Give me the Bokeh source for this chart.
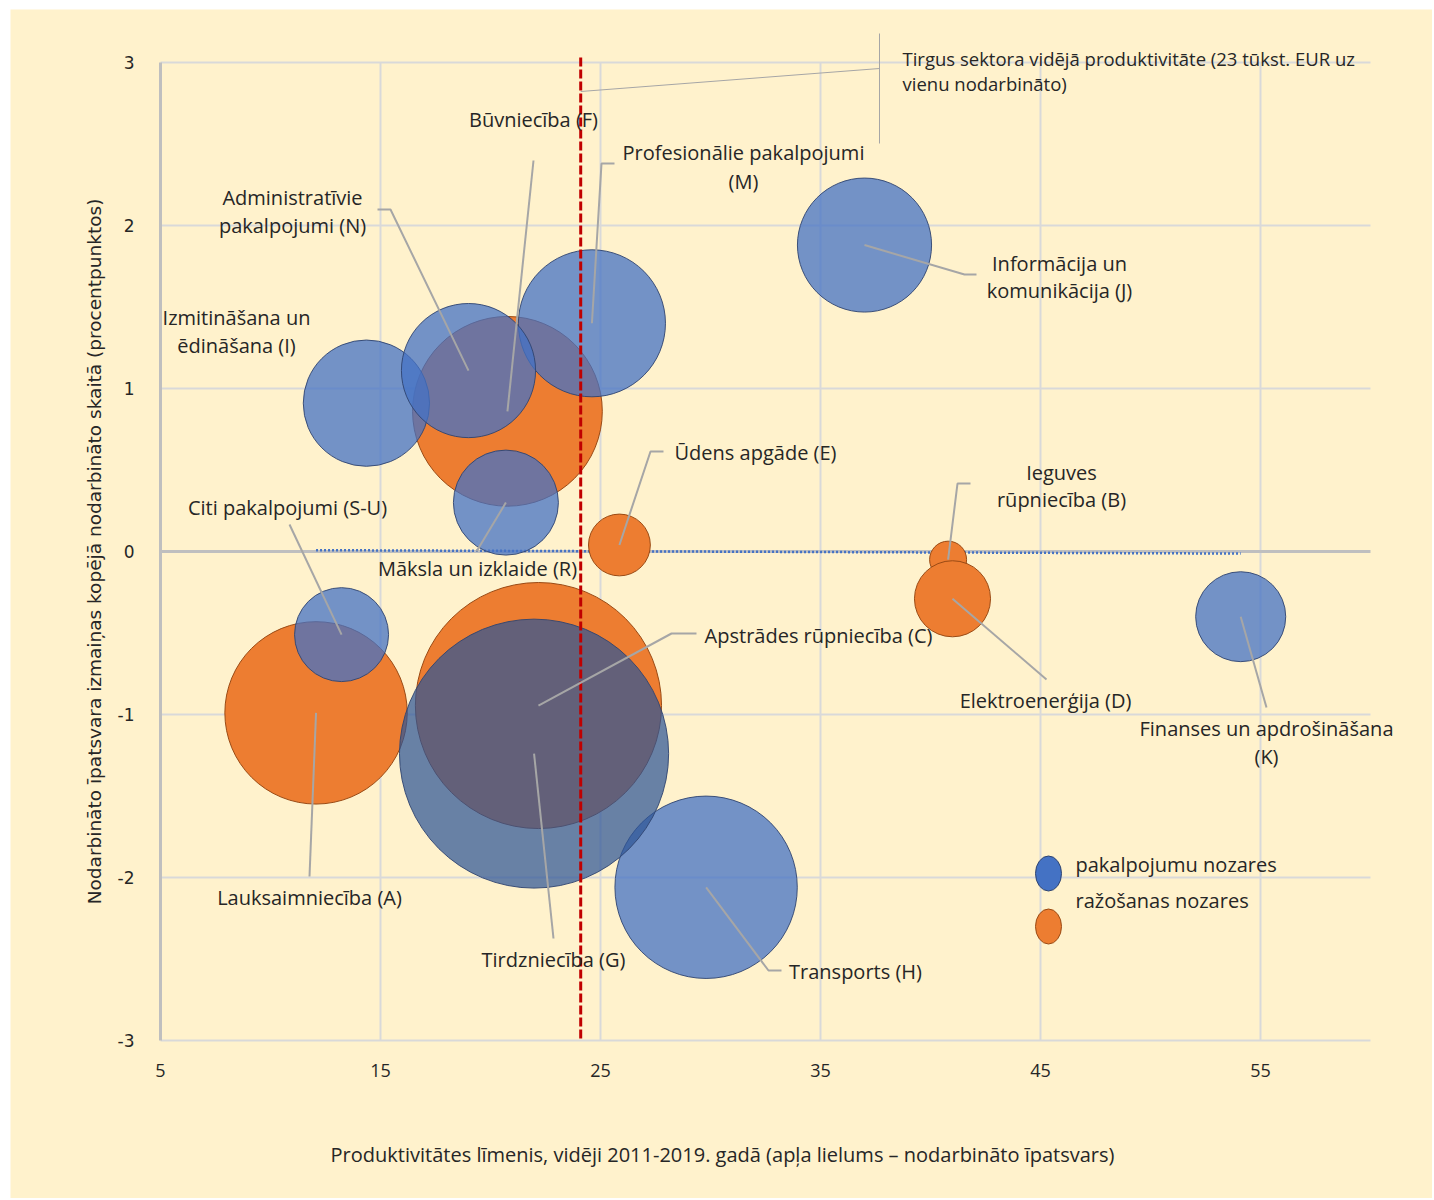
import numpy as np
from bokeh.plotting import figure
from bokeh.models import Range1d, FixedTicker, Label, ColumnDataSource
from bokeh.embed import file_html
from bokeh.resources import INLINE

# ---------------- data ----------------
codes = ["A", "B", "C", "D", "E", "F", "G", "H", "I", "J", "K", "M", "N", "R", "S-U"]
sector_group = ["ražošanas", "ražošanas", "ražošanas", "ražošanas", "ražošanas", "ražošanas",
                "pakalpojumu", "pakalpojumu", "pakalpojumu", "pakalpojumu", "pakalpojumu",
                "pakalpojumu", "pakalpojumu", "pakalpojumu", "pakalpojumu"]
# productivity level, thousand EUR per employed, average 2011-2019
productivity = [12.07, 40.8, 22.18, 41.0, 25.86, 20.77, 21.98, 29.8, 14.36, 37.0, 54.1, 24.61, 19.0, 20.7, 13.23]
# change of employment share (percentage points)
share_change = [-0.99, -0.05, -0.945, -0.29, 0.04, 0.86, -1.24, -2.06, 0.91, 1.88, -0.40, 1.40, 1.11, 0.30, -0.51]
# employment share (%), bubble size
emp_share = [7.3, 0.3, 13.3, 1.27, 0.84, 7.9, 15.9, 7.3, 3.5, 3.95, 1.78, 4.75, 3.95, 2.42, 1.94]
market_avg_productivity = 24.1

label_lines = {
    "A": ["Lauksaimniecība (A)"],
    "B": ["Ieguves", "rūpniecība (B)"],
    "C": ["Apstrādes rūpniecība (C)"],
    "D": ["Elektroenerģija (D)"],
    "E": ["Ūdens apgāde (E)"],
    "F": ["Būvniecība (F)"],
    "G": ["Tirdzniecība (G)"],
    "H": ["Transports (H)"],
    "I": ["Izmitināšana un", "ēdināšana (I)"],
    "J": ["Informācija un", "komunikācija (J)"],
    "K": ["Finanses un apdrošināšana", "(K)"],
    "M": ["Profesionālie pakalpojumi", "(M)"],
    "N": ["Administratīvie", "pakalpojumi (N)"],
    "R": ["Māksla un izklaide (R)"],
    "S-U": ["Citi pakalpojumi (S-U)"],
}
legend_names = ["pakalpojumu nozares", "ražošanas nozares"]
x_limits = [5, 60]
y_limits = [-3, 3]
x_ticks = [5, 15, 25, 35, 45, 55]
y_ticks = [-3, -2, -1, 0, 1, 2, 3]
x_title = "Produktivitātes līmenis, vidēji 2011-2019. gadā (apļa lielums – nodarbināto īpatsvars)"
y_title = "Nodarbināto īpatsvara izmaiņas kopējā nodarbināto skaitā (procentpunktos)"
callout_lines = ["Tirgus sektora vidējā produktivitāte (23 tūkst. EUR uz", "vienu nodarbināto)"]

# ---------------- layout helpers (page pixel -> data, for annotation placement) ----------------
def X(px):
    return 5 + (px - 160) / 22.0

def Y(py):
    return (551 - py) / 163.0

label_pos = {
    "A": [(309, 897)], "B": [(1061, 472), (1061, 499)], "C": [(818, 635)], "D": [(1045, 700)],
    "E": [(755, 452)], "F": [(533, 119)], "G": [(553, 959)], "H": [(855, 971)],
    "I": [(236, 317), (236, 345)], "J": [(1059, 263), (1059, 290)],
    "K": [(1266, 728), (1266, 756)], "M": [(743, 152), (743, 181)],
    "N": [(292, 197), (292, 225)], "R": [(477, 568)], "S-U": [(287, 507)],
}
leader_pts = {
    "A": [(309, 876)], "B": [(957, 483), (970, 483)], "C": [(671, 633), (696, 633)],
    "D": [(1046, 679)], "E": [(650, 451), (663, 451)], "F": [(533, 160)],
    "G": [(553, 938)], "H": [(768, 970), (781, 970)], "J": [(964, 274), (976, 274)],
    "K": [(1266, 707)], "M": [(601, 163), (614, 163)], "N": [(390, 209), (377, 209)],
    "R": [(476, 551)], "S-U": [(289, 524)],
}

BG = "#FFF2CC"
FONT = "Open Sans"
TXT = "#262626"
GRID = "#D9D9D9"

# page area of the figure: x 10..1432, y 9..1198 ; frame covers the whole canvas
p = figure(width=1422, height=1189,
           x_range=Range1d(X(10), X(1432)), y_range=Range1d(Y(1198), Y(9)),
           output_backend="svg", toolbar_location=None,
           min_border=0, min_border_left=0, min_border_right=0, min_border_top=0, min_border_bottom=0)
p.margin = (9, 2, 2, 10)
p.background_fill_color = BG
p.border_fill_color = BG
p.outline_line_color = None
p.xgrid.visible = False
p.ygrid.visible = False

# axes placed at fixed data locations
p.xaxis.fixed_location = y_limits[0]
p.yaxis.fixed_location = x_limits[0]
p.xaxis.bounds = tuple(x_limits)
p.yaxis.bounds = tuple(y_limits)
p.xaxis.ticker = FixedTicker(ticks=x_ticks)
p.yaxis.ticker = FixedTicker(ticks=y_ticks)
p.yaxis.major_label_overrides = {t: str(t) for t in y_ticks}
for ax in (p.xaxis, p.yaxis):
    ax.major_tick_line_color = None
    ax.minor_tick_line_color = None
    ax.major_label_text_color = TXT
    ax.axis_label_text_color = TXT
    ax.axis_label_text_font_style = "normal"
p.xaxis.axis_line_color = None
p.yaxis.axis_line_color = "#BFBFBF"
p.yaxis.axis_line_width = 3
p.xaxis.major_label_text_font = FONT
p.xaxis.major_label_text_font_size = "18px"
p.xaxis.major_label_standoff = 17
p.yaxis.major_label_text_font = "DejaVu Sans"
p.yaxis.major_label_text_font_size = "17px"
p.yaxis.major_label_standoff = 20
p.yaxis.axis_label = y_title
p.yaxis.axis_label_text_font = "DejaVu Sans"
p.yaxis.axis_label_text_font_size = "18.5px"
p.yaxis.axis_label_standoff = 10

# x-axis title (centred on the chart area, as in the original)
p.add_layout(Label(x=X(722), y=Y(1154), text=x_title, text_align="center", text_baseline="middle",
                   text_font=FONT, text_font_size="20px", text_color=TXT))

# grid lines (drawn inside the axis limits only)
vx = [t for t in x_ticks if t != x_limits[0]]
p.segment(x0=vx, y0=[y_limits[0]] * len(vx), x1=vx, y1=[y_limits[1]] * len(vx),
          line_color=GRID, line_width=2)
hy = [t for t in y_ticks if t != 0]
p.segment(x0=[x_limits[0]] * len(hy), y0=hy, x1=[x_limits[1]] * len(hy), y1=hy,
          line_color=GRID, line_width=2)
# zero line
p.segment(x0=[x_limits[0]], y0=[0], x1=[x_limits[1]], y1=[0], line_color="#BFBFBF", line_width=3)

# trend line (linear regression over all sectors)
slope, intercept = np.polyfit(productivity, share_change, 1)
tx = [min(productivity), max(productivity)]
p.line(tx, [slope * v + intercept for v in tx], line_color="#4472C4", line_width=2.5, line_dash="2 2")

# bubbles
def src(sel):
    idx = [i for i, g in enumerate(sector_group) if sel(i, g)]
    return ColumnDataSource(dict(
        x=[productivity[i] for i in idx],
        y=[share_change[i] for i in idx],
        size=[67.5 * np.sqrt(emp_share[i]) for i in idx],
    ))

p.scatter("x", "y", size="size", source=src(lambda i, g: g == "ražošanas"),
          fill_color="#ED7D31", fill_alpha=1.0, line_color="#9A4A14", line_width=1)
p.scatter("x", "y", size="size", source=src(lambda i, g: g == "pakalpojumu" and codes[i] != "G"),
          fill_color="#4472C4", fill_alpha=0.75, line_color="#2F4470", line_width=1, line_alpha=0.9)
p.scatter("x", "y", size="size", source=src(lambda i, g: codes[i] == "G"),
          fill_color="#2E5496", fill_alpha=0.72, line_color="#2F4470", line_width=1, line_alpha=0.9)

# average productivity line
p.segment(x0=[market_avg_productivity], y0=[y_limits[1] + 0.03], x1=[market_avg_productivity],
          y1=[y_limits[0]], line_color="#C00000", line_width=3, line_dash="9 3")

# leader lines
xs, ys = [], []
for i, c in enumerate(codes):
    if c in leader_pts:
        xs.append([productivity[i]] + [X(a) for a, b in leader_pts[c]])
        ys.append([share_change[i]] + [Y(b) for a, b in leader_pts[c]])
p.multi_line(xs, ys, line_color="#A6A6A6", line_width=2)

# labels
for c in codes:
    for txt, (px, py) in zip(label_lines[c], label_pos[c]):
        p.add_layout(Label(x=X(px), y=Y(py), text=txt, text_align="center", text_baseline="middle",
                           text_font=FONT, text_font_size="20px", text_color=TXT))

# callout for average productivity
p.segment(x0=[market_avg_productivity, X(879)], y0=[Y(91), Y(33)],
          x1=[X(879), X(879)], y1=[Y(68), Y(143)], line_color="#A6A6A6", line_width=1)
for txt, py in zip(callout_lines, [58, 83]):
    p.add_layout(Label(x=X(902), y=Y(py), text=txt, text_align="left", text_baseline="middle",
                       text_font=FONT, text_font_size="18.5px", text_color=TXT))

# manual legend
p.ellipse(x=[X(1048)], y=[Y(873)], width=26, height=35, width_units="screen", height_units="screen",
          fill_color="#4472C4", line_color="#2F4470", line_width=1)
p.ellipse(x=[X(1048)], y=[Y(926)], width=26, height=35, width_units="screen", height_units="screen",
          fill_color="#ED7D31", line_color="#9A4A14", line_width=1)
for txt, py in zip(legend_names, [864, 900]):
    p.add_layout(Label(x=X(1075), y=Y(py), text=txt, text_align="left", text_baseline="middle",
                       text_font=FONT, text_font_size="20px", text_color=TXT))

open("out.html", "w").write(file_html(p, INLINE))
